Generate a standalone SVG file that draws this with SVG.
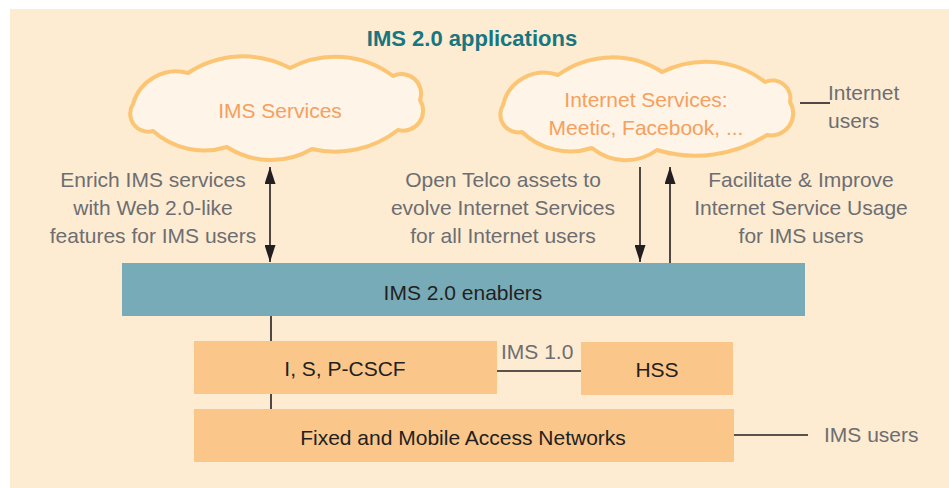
<svg xmlns="http://www.w3.org/2000/svg" width="949" height="488" viewBox="0 0 949 488">
  <defs>
    <style>
      text { font-family: "Liberation Sans", Arial, sans-serif; }
      .title { font-size: 22px; font-weight: bold; fill: #17767F; text-anchor: middle; }
      .cloud { fill: #FEF4E7; stroke: #FCC574; stroke-width: 4; stroke-linejoin: round; }
      .ctext { font-size: 21px; fill: #F5A05E; text-anchor: middle; }
      .gray { font-size: 21px; fill: #6D6E71; }
      .mid { text-anchor: middle; }
      .dark { font-size: 21px; fill: #231F20; text-anchor: middle; }
      .box { fill: #FBC68A; }
      .bar { fill: #78ABB8; }
      .conn { stroke: #231F20; stroke-width: 1.6; fill: none; }
    </style>
    <marker id="ah" viewBox="0 0 17 11" refX="17" refY="5.5" markerWidth="17" markerHeight="11" markerUnits="userSpaceOnUse" orient="auto-start-reverse">
      <path d="M0,0 L17,5.5 L0,11 Z" fill="#231F20"/>
    </marker>
  </defs>

  <rect x="10" y="9" width="939" height="479" fill="#FDEBD2"/>

  <g id="title">
    <text class="title" x="472" y="46">IMS 2.0 applications</text>
  </g>

  <g id="ims-services">
    <path class="cloud" d="M133,104 A45,45 0 0 1 188,73 A100,100 0 0 1 290,68 A96,96 0 0 1 393,76 A19.5,19.5 0 0 1 420,100 A20,20 0 0 1 398,130 A102,102 0 0 1 312,149 A81,81 0 0 1 227,147 A77,77 0 0 1 153,131 A18,18 0 0 1 133,104 Z"/>
    <text class="ctext" x="280" y="118">IMS Services</text>
  </g>

  <g id="internet-services">
    <path class="cloud" d="M503,105 A42,42 0 0 1 558,75 A92,92 0 0 1 662,72 A97,97 0 0 1 765,82 A18,18 0 0 1 790,102 A22,22 0 0 1 767,135 A134,134 0 0 1 657,150 A53,53 0 0 1 592,148 A70,70 0 0 1 522,132 A18,18 0 0 1 503,105 Z"/>
    <text class="ctext" x="646" y="107">Internet Services:</text>
    <text class="ctext" x="646" y="135">Meetic, Facebook, ...</text>
  </g>

  <g id="internet-users">
    <text class="gray" x="828" y="100">Internet</text>
    <text class="gray" x="828" y="128">users</text>
  </g>

  <g id="label-enrich">
    <text class="gray mid" x="153" y="187">Enrich IMS services</text>
    <text class="gray mid" x="153" y="215">with Web 2.0-like</text>
    <text class="gray mid" x="153" y="243">features for IMS users</text>
  </g>

  <g id="label-open">
    <text class="gray mid" x="503" y="187">Open Telco assets to</text>
    <text class="gray mid" x="503" y="215">evolve Internet Services</text>
    <text class="gray mid" x="503" y="243">for all Internet users</text>
  </g>

  <g id="label-facilitate">
    <text class="gray mid" x="801" y="187">Facilitate &amp; Improve</text>
    <text class="gray mid" x="801" y="215">Internet Service Usage</text>
    <text class="gray mid" x="801" y="243">for IMS users</text>
  </g>

  <g id="enablers">
    <rect class="bar" x="122" y="263" width="683" height="53"/>
    <text class="dark" x="463" y="300">IMS 2.0 enablers</text>
  </g>

  <g id="cscf">
    <rect class="box" x="194" y="341" width="303" height="53"/>
    <text class="dark" x="345" y="376">I, S, P-CSCF</text>
  </g>

  <g id="hss">
    <rect class="box" x="581" y="342" width="152" height="53"/>
    <text class="dark" x="657" y="377">HSS</text>
  </g>

  <g id="access-networks">
    <rect class="box" x="194" y="409" width="540" height="53"/>
    <text class="dark" x="463" y="445">Fixed and Mobile Access Networks</text>
  </g>

  <g id="ims-users">
    <text class="gray" x="824" y="442">IMS users</text>
  </g>

  <g id="connectors">
    <line class="conn" x1="270" y1="167" x2="270" y2="262" marker-start="url(#ah)" marker-end="url(#ah)"/>
    <line class="conn" x1="640" y1="167" x2="640" y2="262" marker-end="url(#ah)"/>
    <line class="conn" x1="670" y1="263" x2="670" y2="167" marker-end="url(#ah)"/>
    <line class="conn" x1="800" y1="103" x2="830" y2="103"/>
    <line class="conn" x1="271" y1="316" x2="271" y2="341"/>
    <line class="conn" x1="271" y1="394" x2="271" y2="409"/>
    <line class="conn" x1="497" y1="371" x2="581" y2="371"/>
    <text class="gray" x="501" y="359" font-size="20">IMS 1.0</text>
    <line class="conn" x1="734" y1="435" x2="808" y2="435"/>
  </g>
</svg>
